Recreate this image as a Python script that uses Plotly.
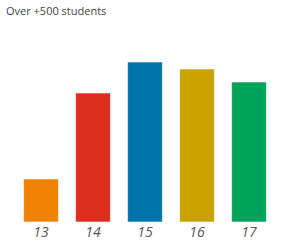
import plotly.graph_objects as go

categories = ["13", "14", "15", "16", "17"]
values = [43, 129, 160, 153, 140]
colors = ["#F18100", "#DD2E1F", "#0073AA", "#C9A200", "#00A359"]
title_text = "Over +500 students"

fig = go.Figure(go.Bar(
    x=categories, y=values,
    marker=dict(color=colors, line=dict(color="rgba(255,255,255,0.6)", width=1)),
    width=0.67,
))
fig.update_layout(
    width=300, height=252,
    margin=dict(l=15, r=25, t=52, b=30),
    paper_bgcolor="white", plot_bgcolor="white",
    showlegend=False,
    title=dict(text=title_text, x=0, xref="paper", xanchor="left", y=0.955, yanchor="middle",
               font=dict(family="Open Sans", size=11, color="#444")),
    xaxis=dict(showgrid=False, zeroline=False, showline=False, ticks="",
               tickfont=dict(family="Open Sans", size=14, color="#555", style="italic")),
    yaxis=dict(visible=False, range=[0, 170]),
)
fig.update_layout(title=dict(x=0.02, xref="container"))
fig.write_html("out.html")
